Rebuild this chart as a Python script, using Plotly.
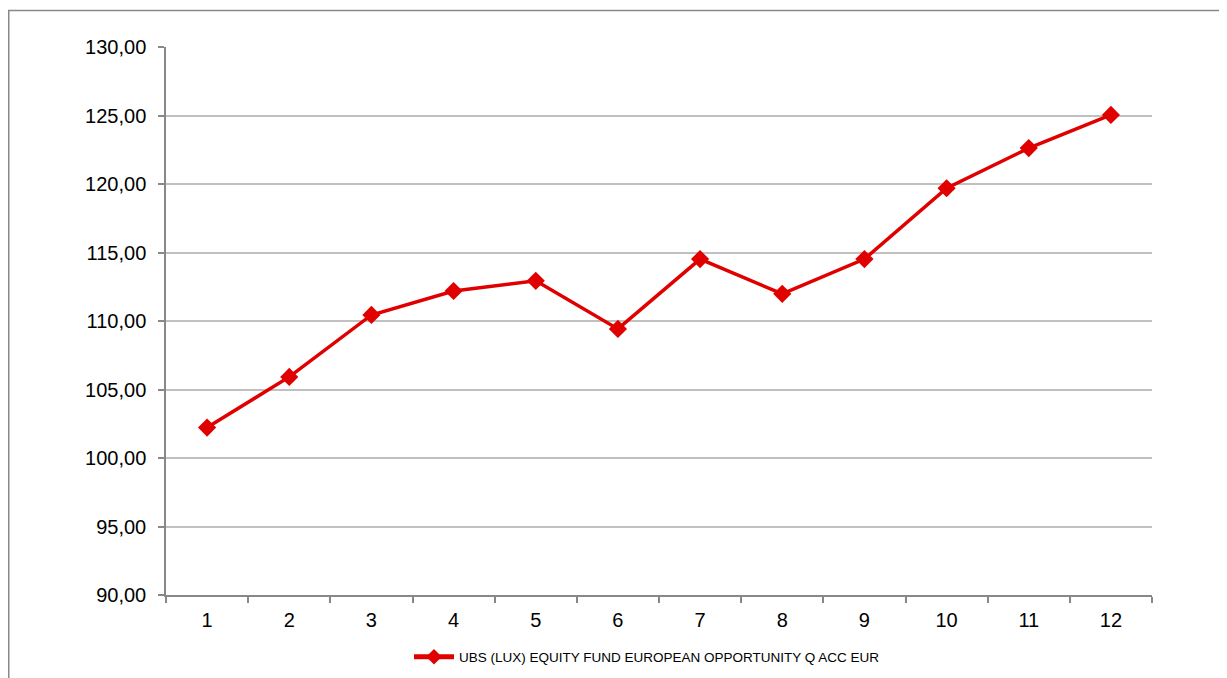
import plotly.graph_objects as go

categories = ["1", "2", "3", "4", "5", "6", "7", "8", "9", "10", "11", "12"]
values = [102.22, 105.92, 110.44, 112.19, 112.93, 109.42, 114.52, 111.98, 114.52, 119.69, 122.62, 125.04]
series_name = "UBS (LUX) EQUITY FUND EUROPEAN OPPORTUNITY Q ACC EUR"
y_ticks = [90, 95, 100, 105, 110, 115, 120, 125, 130]

OFF = 8  # page body margin
W, H = 1227 - OFF, 678 - OFF
L, R, T, B = 166 - OFF, 1152 - OFF, 47 - OFF, 595 - OFF
pw, ph = R - L, B - T

fig = go.Figure()
fig.add_trace(go.Scatter(
    x=categories, y=values, mode="lines+markers", name=series_name,
    line=dict(color="#E00000", width=3.5),
    marker=dict(symbol="diamond", size=14, color="#E00000"),
))

def px_x(p):
    return (p - OFF - L) / pw

def px_y(p):
    return (B - (p - OFF)) / ph

fig.add_shape(type="rect", xref="paper", yref="paper",
              x0=px_x(OFF + 0.75), x1=px_x(1260), y0=px_y(700), y1=px_y(10.5),
              line=dict(color="#888888", width=1.5), layer="below")

fig.update_layout(
    width=W, height=H,
    margin=dict(l=L, r=W - R, t=T, b=H - B, autoexpand=False),
    paper_bgcolor="white", plot_bgcolor="white",
    separators=", ",
    font=dict(family="Liberation Sans, Arial, sans-serif", color="black", size=20),
    showlegend=True,
    legend=dict(orientation="h",
                xref="container", x=(647 - OFF) / W, xanchor="center",
                yref="container", y=1 - (657 - OFF) / H, yanchor="middle",
                font=dict(size=13.5), itemwidth=40, itemsizing="constant"),
)
fig.update_xaxes(
    type="category", range=[-0.5, 11.5],
    showline=True, linecolor="#888888", linewidth=1.5,
    ticks="outside", tickson="boundaries", ticklen=6, tickcolor="#888888", tickwidth=1.5,
    showgrid=False, tickfont=dict(size=20), ticklabelstandoff=6, automargin=False,
)
fig.update_yaxes(
    range=[90, 130], tickvals=y_ticks, tickformat=".2f",
    showline=True, linecolor="#888888", linewidth=1.5,
    ticks="outside", ticklen=6, tickcolor="#888888", tickwidth=1.5,
    showgrid=True, gridcolor="#C0C0C0", gridwidth=1.5,
    zeroline=False, tickfont=dict(size=20), ticklabelstandoff=8, automargin=False,
)

fig.write_html("out.html")
